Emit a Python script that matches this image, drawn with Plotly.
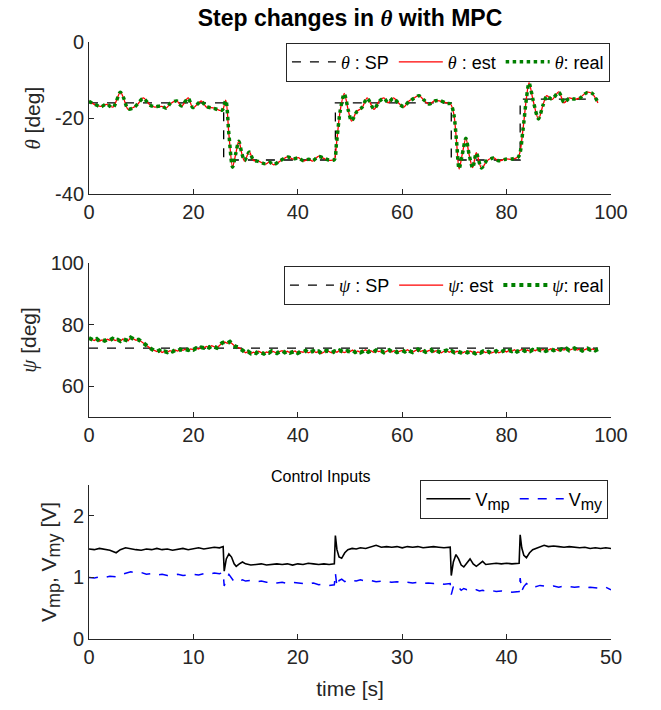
import numpy as np
import plotly.graph_objects as go

# ---------------- data ----------------
theta_sp_t = [0, 25.8, 47.2, 69.4, 82.6, 97.5]
theta_sp_v = [-16, -31, -16, -31, -15, -15]

theta_t = [0, 1.0, 2.3, 3.3, 4.6, 6.0, 6.6, 7.5, 8.6, 9.3, 10.4, 11.6, 12.6, 13.9, 14.8,
           15.6, 16.8, 17.7, 19.0, 19.9, 21.5, 22.5, 23.8, 25.5, 26.2, 26.8, 27.5, 28.1,
           28.7, 29.3, 29.8, 30.7, 31.5, 32.5, 33.8, 34.6, 35.4, 36.4, 38.1, 39.1, 40.1,
           41.1, 42.1, 42.8, 44.0, 45.0, 46.0, 47.0, 47.4, 48.1, 48.9, 49.7, 50.3, 51.3,
           52.3, 53.3, 54.6, 55.6, 56.5, 57.3, 58.3, 59.3, 60.3, 61.3, 62.3, 63.2, 64.2,
           65.2, 66.2, 67.2, 68.5, 69.3, 69.9, 70.4, 70.9, 71.5, 72.2, 72.8, 73.5, 74.2,
           75.2, 76.2, 77.5, 78.5, 79.8, 81.1, 82.3, 83.1, 83.8, 84.3, 85.1, 86.1, 87.0,
           87.7, 88.7, 90.0, 91.0, 92.0, 93.0, 94.0, 95.4, 96.4, 97.5]
theta_est = [-15.5, -16.4, -16.9, -16.4, -17.1, -13.1, -14.7, -17.7, -17.1, -16.4, -14.7,
             -16.4, -17.1, -16.9, -17.3, -16.2, -15.4, -16.9, -14.7, -17.3, -15.5, -17.1,
             -17.3, -18.0, -15.3, -24.3, -32.8, -29.5, -26.0, -29.5, -31.3, -28.8, -31.1,
             -31.3, -32.1, -31.5, -32.3, -31.5, -30.1, -30.8, -30.4, -31.3, -30.7, -31.3,
             -30.0, -30.6, -31.1, -30.8, -26.9, -18.2, -13.5, -18.2, -20.8, -18.2, -17.3,
             -14.7, -17.7, -15.5, -14.7, -16.0, -14.7, -16.0, -17.1, -15.5, -14.7, -14.0,
             -15.4, -16.4, -15.4, -15.5, -16.0, -16.4, -19.0, -26.0, -33.4, -29.5, -25.2,
             -29.5, -33.0, -29.1, -33.2, -31.3, -30.4, -31.3, -30.7, -30.8, -30.0, -23.4,
             -14.7, -10.7, -15.5, -20.3, -16.4, -14.1, -15.1, -13.1, -16.0, -14.7, -15.1,
             -14.7, -13.2, -13.6, -16.0]
theta_real = [-15.6, -16.3, -17.0, -16.3, -17.2, -13.2, -14.6, -17.6, -17.2, -16.3, -14.8,
              -16.5, -17.0, -16.8, -17.4, -16.1, -15.5, -16.8, -14.8, -17.2, -15.6, -17.0,
              -17.4, -17.9, -15.4, -24.2, -32.9, -29.4, -26.1, -29.4, -31.2, -28.9, -31.0,
              -31.4, -32.0, -31.6, -32.2, -31.4, -30.2, -30.7, -30.5, -31.2, -30.8, -31.2,
              -30.1, -30.5, -31.0, -30.9, -26.8, -18.3, -13.6, -18.1, -20.7, -18.3, -17.2,
              -14.8, -17.6, -15.6, -14.8, -15.9, -14.8, -16.1, -17.0, -15.6, -14.8, -14.1,
              -15.3, -16.3, -15.5, -15.4, -16.1, -16.3, -19.1, -25.9, -33.3, -29.6, -25.3,
              -29.4, -33.1, -29.2, -33.1, -31.2, -30.5, -31.2, -30.8, -30.7, -30.1, -23.5,
              -14.8, -10.8, -15.4, -20.2, -16.5, -14.2, -15.0, -13.2, -15.9, -14.8, -15.0,
              -14.8, -13.3, -13.5, -15.9]

psi_sp_t = [0, 97.5]
psi_sp_v = [72.3, 72.3]

psi_t = np.arange(0, 98, 0.5)
psi_est = [75.6, 75.1, 74.8, 75.3, 74.6, 75.0, 74.7, 75.2, 74.9, 75.4, 74.8, 75.1, 74.6, 75.3, 75.0, 74.7, 75.8, 75.3, 74.9, 75.1,
           74.4, 74.0, 73.3, 72.6, 72.0, 71.5, 71.2, 71.6, 70.9, 71.3, 71.0, 71.5, 71.2, 71.7, 71.4, 71.9, 71.6, 72.0, 71.7, 72.1,
           71.8, 72.3, 72.0, 72.6, 72.4, 72.9, 72.5, 73.1, 72.7, 72.4, 73.2, 74.0, 74.3, 73.9, 74.4, 73.6, 72.9, 72.6, 72.2, 71.5,
           70.8, 71.2, 70.6, 71.0, 70.7, 71.3, 70.9, 70.5, 71.1, 70.8, 71.4, 71.0, 70.7, 71.2, 71.5, 70.9, 71.3, 70.8, 71.1, 71.4,
           70.7, 71.2, 71.0, 71.5, 70.8, 71.1, 71.4, 70.9, 71.3, 70.6, 71.0, 71.5, 71.2, 70.8, 71.3, 71.0, 71.6, 71.1, 70.9, 71.4,
           71.2, 71.7, 71.0, 71.4, 70.9, 71.3, 71.8, 71.1, 71.5, 71.0, 71.6, 71.2, 71.4, 70.9, 71.3, 71.7, 71.1, 71.5, 71.0, 71.4,
           71.6, 71.2, 71.8, 71.3, 71.0, 71.5, 71.9, 71.2, 71.6, 71.1, 71.4, 71.8, 71.0, 71.5, 71.2, 70.8, 71.3, 71.6, 71.0, 71.4,
           70.9, 71.3, 71.0, 70.7, 71.2, 70.9, 71.4, 71.0, 70.6, 71.1, 70.8, 71.3, 70.9, 71.2, 70.7, 71.0, 71.4, 70.8, 71.2, 71.5,
           71.1, 71.6, 71.3, 71.8, 71.2, 71.5, 71.9, 71.4, 71.7, 71.3, 71.8, 71.5, 72.0, 71.6, 71.9, 71.4, 71.8, 72.1, 71.6, 71.9,
           71.5, 72.0, 71.7, 72.2, 71.6, 71.9, 72.3, 71.7, 72.0, 71.5, 71.9, 72.2, 71.8, 72.1, 71.6, 72.0]
psi_real = psi_est

ctrl_t = [0, 0.5, 1, 1.5, 2, 2.6, 3, 3.5, 4, 4.5, 5, 5.5, 6, 6.5, 7, 7.5, 8, 8.5, 9, 9.5, 10, 10.5, 11, 11.5, 12, 12.5, 12.85,
          12.95, 13.15, 13.4, 13.65, 13.9, 14.1, 14.4, 14.7, 15.0, 15.5, 16, 16.5, 17, 17.5, 18, 18.5, 19, 19.5, 20, 20.5, 21, 21.5, 22, 22.5, 23, 23.5,
          23.6, 23.75, 23.95, 24.2, 24.5, 24.8, 25.2, 25.6, 26, 26.5, 27, 27.5, 28, 28.5, 29, 29.5, 30, 30.5, 31, 31.5, 32, 32.5, 33, 33.5, 34, 34.6,
          34.7, 34.9, 35.15, 35.4, 35.65, 35.9, 36.2, 36.5, 36.8, 37.1, 37.4, 37.7, 38, 38.5, 39, 39.5, 40, 40.5, 41.2,
          41.3, 41.45, 41.65, 41.9, 42.2, 42.5, 42.8, 43.2, 43.6, 44, 44.5, 45, 45.5, 46, 46.5, 47, 47.5, 48, 48.5, 49, 49.5, 50]
v_mp = [1.46, 1.45, 1.47, 1.45, 1.44, 1.40, 1.45, 1.48, 1.46, 1.45, 1.44, 1.46, 1.45, 1.47, 1.45, 1.46, 1.44, 1.46, 1.47, 1.45, 1.46, 1.48, 1.46, 1.47, 1.49, 1.48, 1.50,
        1.10, 1.30, 1.38, 1.33, 1.22, 1.18, 1.22, 1.25, 1.22, 1.20, 1.21, 1.22, 1.20, 1.21, 1.22, 1.21, 1.22, 1.20, 1.22, 1.21, 1.23, 1.22, 1.21, 1.22, 1.21, 1.22,
        1.68, 1.45, 1.33, 1.31, 1.40, 1.45, 1.47, 1.46, 1.48, 1.47, 1.49, 1.52, 1.49, 1.50, 1.49, 1.50, 1.48, 1.50, 1.49, 1.50, 1.48, 1.49, 1.50, 1.49, 1.48, 1.49,
        1.03, 1.25, 1.37, 1.30, 1.20, 1.17, 1.24, 1.30, 1.22, 1.18, 1.22, 1.26, 1.21, 1.22, 1.23, 1.22, 1.23, 1.22, 1.23,
        1.69, 1.48, 1.36, 1.32, 1.40, 1.45, 1.47, 1.50, 1.52, 1.50, 1.51, 1.50, 1.49, 1.50, 1.49, 1.48, 1.49, 1.47, 1.48, 1.47, 1.48, 1.47]
v_my = [1.00, 0.99, 1.01, 1.00, 1.02, 1.01, 1.04, 1.06, 1.09, 1.07, 1.08, 1.05, 1.06, 1.04, 1.05, 1.03, 1.04, 1.05, 1.03, 1.04, 1.05, 1.04, 1.06, 1.05, 1.07, 1.06, 1.08,
        0.86, 0.97, 1.05, 0.98, 0.93, 0.95, 0.94, 0.96, 0.94, 0.95, 0.93, 0.94, 0.92, 0.93, 0.91, 0.92, 0.90, 0.92, 0.91, 0.90, 0.89, 0.91, 0.88, 0.89, 0.87, 0.88,
        1.07, 0.85, 0.95, 0.97, 0.93, 0.96, 0.95, 0.94, 0.96, 0.94, 0.95, 0.93, 0.94, 0.93, 0.92, 0.93, 0.91, 0.92, 0.91, 0.92, 0.90, 0.91, 0.90, 0.91, 0.89, 0.90,
        0.72, 0.85, 0.80, 0.84, 0.79, 0.82, 0.80, 0.81, 0.79, 0.80, 0.78, 0.79, 0.78, 0.79, 0.77, 0.78, 0.77, 0.76, 0.77,
        0.99, 0.78, 0.85, 0.90, 0.86, 0.88, 0.85, 0.87, 0.86, 0.85, 0.86, 0.84, 0.86, 0.85, 0.84, 0.85, 0.83, 0.84, 0.83, 0.82, 0.84, 0.80]

x_ticks_top = [0, 20, 40, 60, 80, 100]
x_ticks_ctrl = [0, 10, 20, 30, 40, 50]

# ---------------- figure ----------------
FONT = "Liberation Sans, Arial, Helvetica, sans-serif"
AX = "#262626"
TH = '<span style="font-family:Liberation Serif;font-style:italic">θ</span>'
PS = '<span style="font-family:Liberation Serif;font-style:italic">ψ</span>'


def sub(s, px):
    return '<sub><span style="font-size:%dpx">%s</span></sub>' % (px, s)


fig = go.Figure()

# theta
fig.add_trace(go.Scatter(x=theta_sp_t, y=theta_sp_v, mode="lines", line_shape="hv",
                         line=dict(color="black", width=1.3, dash="dash"),
                         name=TH + " : SP", legend="legend", xaxis="x", yaxis="y"))
fig.add_trace(go.Scatter(x=theta_t, y=theta_est, mode="lines", line_shape="spline",
                         line=dict(color="red", width=1.3, smoothing=0.8),
                         name=TH + " : est", legend="legend", xaxis="x", yaxis="y"))
fig.add_trace(go.Scatter(x=theta_t, y=theta_real, mode="lines", line_shape="spline",
                         line=dict(color="#008000", width=3.5, dash="dot", smoothing=0.8),
                         name=TH + ": real", legend="legend", xaxis="x", yaxis="y"))

# psi
fig.add_trace(go.Scatter(x=psi_sp_t, y=psi_sp_v, mode="lines",
                         line=dict(color="black", width=1.3, dash="dash"),
                         name=PS + " : SP", legend="legend2", xaxis="x2", yaxis="y2"))
fig.add_trace(go.Scatter(x=psi_t, y=psi_est, mode="lines",
                         line=dict(color="red", width=1.3),
                         name=PS + ": est", legend="legend2", xaxis="x2", yaxis="y2"))
fig.add_trace(go.Scatter(x=psi_t, y=psi_real, mode="lines",
                         line=dict(color="#008000", width=4, dash="dot"),
                         name=PS + ": real", legend="legend2", xaxis="x2", yaxis="y2"))

# control
fig.add_trace(go.Scatter(x=ctrl_t, y=v_mp, mode="lines",
                         line=dict(color="black", width=1.6),
                         name="V" + sub("mp", 16), legend="legend3", xaxis="x3", yaxis="y3"))
fig.add_trace(go.Scatter(x=ctrl_t, y=v_my, mode="lines",
                         line=dict(color="#0000ff", width=1.5, dash="dash"),
                         name="V" + sub("my", 16), legend="legend3", xaxis="x3", yaxis="y3"))

axis_common = dict(showline=True, linecolor=AX, linewidth=1, ticks="inside", ticklen=5,
                   tickcolor=AX, showgrid=False, zeroline=False, mirror=False,
                   tickfont=dict(family=FONT, size=20, color=AX))
TF = dict(family=FONT, size=21, color=AX)

fig.update_layout(
    width=661, height=710,
    margin=dict(l=89, r=50, t=42, b=71),
    plot_bgcolor="white", paper_bgcolor="white",
    font=dict(family=FONT, color=AX),
    xaxis=dict(domain=[0, 1], anchor="y", range=[0, 100], tickvals=x_ticks_top, **axis_common),
    yaxis=dict(domain=[0.745, 1], anchor="x", range=[-40, 0], tickvals=[-40, -20, 0],
               ticktext=["-40", "-20", "0"],
               title=dict(text=TH + " [deg]", font=TF, standoff=8), **axis_common),
    xaxis2=dict(domain=[0, 1], anchor="y2", range=[0, 100], tickvals=x_ticks_top, **axis_common),
    yaxis2=dict(domain=[0.372, 0.630], anchor="x2", range=[50, 100], tickvals=[60, 80, 100],
                title=dict(text=PS + " [deg]", font=TF, standoff=8), **axis_common),
    xaxis3=dict(domain=[0, 1], anchor="y3", range=[0, 50], tickvals=x_ticks_ctrl,
                title=dict(text="time [s]", font=TF, standoff=14), **axis_common),
    yaxis3=dict(domain=[0, 0.258], anchor="x3", range=[0, 2.5], tickvals=[0, 1, 2],
                title=dict(text="V" + sub("mp", 18) + ", V" + sub("my", 18) + " [V]", font=TF, standoff=10),
                **axis_common),
    title=dict(text="<b>Step changes in " + TH + " with MPC</b>", x=0.5, xref="paper",
               y=1 - 18 / 710, yref="container", yanchor="middle", xanchor="center",
               font=dict(family=FONT, size=23, color="black")),
    showlegend=True,
)

leg_common = dict(orientation="h", xanchor="right", yanchor="top", bgcolor="white",
                  bordercolor=AX, borderwidth=1, font=dict(family=FONT, size=18, color="black"),
                  itemwidth=44, tracegroupgap=0)
fig.update_layout(
    legend=dict(x=0.998, y=0.999, **leg_common),
    legend2=dict(x=0.998, y=0.625, **leg_common),
    legend3=dict(x=0.995, y=0.267, **leg_common),
)

fig.add_annotation(text="Control Inputs", x=0.445, y=0.272, xref="paper", yref="paper",
                   showarrow=False, font=dict(family=FONT, size=16, color="black"),
                   xanchor="center", yanchor="middle")

fig.write_html("out.html")
